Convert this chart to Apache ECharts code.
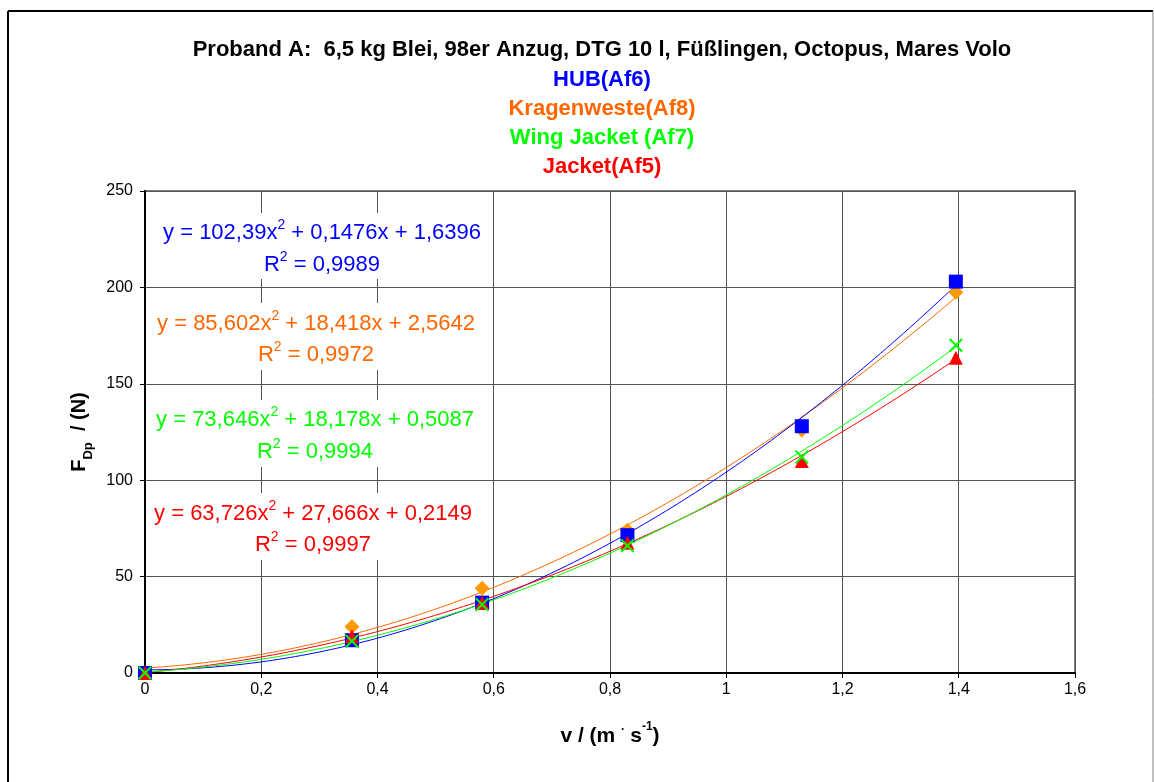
<!DOCTYPE html>
<html>
<head>
<meta charset="utf-8">
<script src="https://cdn.jsdelivr.net/npm/echarts@6/dist/echarts.min.js"></script>
<style>
html,body{margin:0;padding:0;background:#fff;}
#chart{width:1154px;height:782px;}
</style>
</head>
<body>
<div id="chart"></div>
<script>
// ---- data ----
const velocity = [0, 0.356, 0.58, 0.83, 1.13, 1.395];
const hubForce = [0, 17, 36.5, 71.5, 128, 203];
const kragenForce = [0, 24, 44, 74, 126, 197.5];
const wingForce = [0, 16.5, 35.5, 66, 112, 170];
const jacketForce = [0, 19, 36.5, 67.5, 110, 163.5];

// trendline coefficients (a, b, c) of y = a x^2 + b x + c, as printed
const hubFit = [102.39, 0.1476, 1.6396];
const kragenFit = [85.602, 18.418, 2.5642];
const wingFit = [73.646, 18.178, 0.5087];
const jacketFit = [63.726, 27.666, 0.2149];
const rSquared = [0.9989, 0.9972, 0.9994, 0.9997];

const seriesNames = ['HUB(Af6)', 'Kragenweste(Af8)', 'Wing Jacket (Af7)', 'Jacket(Af5)'];
const xTicks = [0, 0.2, 0.4, 0.6, 0.8, 1, 1.2, 1.4, 1.6];
const yTicks = [0, 50, 100, 150, 200, 250];

const FONT = '"Liberation Sans", Arial, sans-serif';
const C_BLUE = '#0000ff', C_ORANGE = '#ff6600', C_ORANGE_M = '#ff9900', C_GREEN = '#00ff00', C_RED = '#ff0000';

function pairs(xs, ys){ return xs.map((x,i)=>[x, ys[i]]); }
function trend(coef, xs){
  const out = [];
  const xmax = xs[xs.length-1];
  const n = 140;
  for(let i=0;i<=n;i++){
    const x = xmax*i/n;
    out.push([x, coef[0]*x*x + coef[1]*x + coef[2]]);
  }
  return out;
}
function dec(v){ return String(v).replace('.', ','); }
function eqText(c){ return '{t|y = ' + dec(c[0]) + 'x}{s|2}{t| + ' + dec(c[1]) + 'x + ' + dec(c[2]) + '}'; }
function r2Text(r){ return '{t|R}{s|2}{t| = ' + dec(r) + '}'; }

const crossPath = 'path://M0,1 L1,0 L5,4 L9,0 L10,1 L6,5 L10,9 L9,10 L5,6 L1,10 L0,9 L4,5 Z';

const chart = echarts.init(document.getElementById('chart'), null, {renderer:'canvas'});

const eqColors = [C_BLUE, C_ORANGE, C_GREEN, C_RED];
const fits = [hubFit, kragenFit, wingFit, jacketFit];
const eqCenters = [[322,231,263],[316,322,353],[315,418,450],[313,512,543]];
const boxes = [[154,213,332,66],[150,303,336,67],[150,400,336,67],[148,493,336,67]];

const graphics = [
  {type:'line', shape:{x1:8,y1:11,x2:1153,y2:11}, style:{stroke:'#000',lineWidth:2}, z:1},
  {type:'line', shape:{x1:8,y1:11,x2:8,y2:782}, style:{stroke:'#000',lineWidth:2}, z:1},
  {type:'line', shape:{x1:1153,y1:11,x2:1153,y2:782}, style:{stroke:'#808080',lineWidth:1}, z:1}
];
const titleLines = [
  ['Proband A:  6,5 kg Blei, 98er Anzug, DTG 10 l, Füßlingen, Octopus, Mares Volo', '#000', 50],
  [seriesNames[0], C_BLUE, 80],
  [seriesNames[1], C_ORANGE, 109],
  [seriesNames[2], C_GREEN, 138],
  [seriesNames[3], C_RED, 167]
];
titleLines.forEach(t=>{
  graphics.push({type:'text', x:602, y:t[2], z:10, style:{text:t[0], fill:t[1], font:'bold 22px '+FONT, align:'center', verticalAlign:'middle'}});
});
fits.forEach((c,i)=>{
  const b = boxes[i];
  graphics.push({type:'rect', shape:{x:b[0],y:b[1],width:b[2],height:b[3]}, style:{fill:'#fff'}, z:5});
  const rich = {t:{fontSize:22, fontFamily:FONT, fill:eqColors[i], lineHeight:26, verticalAlign:'bottom'}, s:{fontSize:14, fontFamily:FONT, fill:eqColors[i], lineHeight:26, verticalAlign:'top'}};
  graphics.push({type:'text', x:eqCenters[i][0], y:eqCenters[i][1], z:10, style:{text:eqText(c), rich:rich, align:'center', verticalAlign:'middle'}});
  graphics.push({type:'text', x:eqCenters[i][0], y:eqCenters[i][2], z:10, style:{text:r2Text(rSquared[i]), rich:rich, align:'center', verticalAlign:'middle'}});
});

function fmtTick(v){ const r = Math.round(v*10)/10; return dec(r); }

chart.setOption({
  backgroundColor:'#ffffff',
  animation:false,
  grid:{left:145, top:191, right:79, bottom:109, show:true, borderColor:'#808080', borderWidth:2, backgroundColor:'#fff'},
  xAxis:{
    type:'value', min:0, max:1.6, interval:0.2,
    axisLine:{show:true, onZero:false, lineStyle:{color:'#000', width:2}},
    axisTick:{show:true, length:5, lineStyle:{color:'#000'}},
    axisLabel:{formatter:fmtTick, fontSize:16, fontFamily:FONT, color:'#000', margin:9},
    splitLine:{show:true, lineStyle:{color:'#555', width:1}},
    name:'{b|v / (m }{s|.}{b| s}{s|-1}{b|)}', nameLocation:'middle', nameGap:48,
    nameTextStyle:{rich:{b:{fontSize:21, fontWeight:'bold', fontFamily:FONT, color:'#000', lineHeight:26, verticalAlign:'bottom'}, s:{fontSize:12, fontWeight:'bold', fontFamily:FONT, color:'#000', lineHeight:26, verticalAlign:'top'}}}
  },
  yAxis:{
    type:'value', min:0, max:250, interval:50,
    axisLine:{show:true, lineStyle:{color:'#000', width:2}},
    axisTick:{show:true, length:5, lineStyle:{color:'#000'}},
    axisLabel:{fontSize:16, fontFamily:FONT, color:'#000', margin:12},
    splitLine:{show:true, lineStyle:{color:'#555', width:1}},
    name:'{b|F}{s|Dp}{b|  / (N)}', nameLocation:'middle', nameGap:47, nameRotate:90,
    nameTextStyle:{rich:{b:{fontSize:20, fontWeight:'bold', fontFamily:FONT, color:'#000', lineHeight:26, verticalAlign:'top'}, s:{fontSize:13, fontWeight:'bold', fontFamily:FONT, color:'#000', lineHeight:26, verticalAlign:'bottom'}}}
  },
  series:[
    {name:'Kragenweste trend', type:'line', data:trend(kragenFit, velocity), showSymbol:false, symbol:'none', lineStyle:{color:C_ORANGE, width:1}, z:2, silent:true},
    {name:'HUB trend', type:'line', data:trend(hubFit, velocity), showSymbol:false, symbol:'none', lineStyle:{color:C_BLUE, width:1}, z:2, silent:true},
    {name:'Jacket trend', type:'line', data:trend(jacketFit, velocity), showSymbol:false, symbol:'none', lineStyle:{color:C_RED, width:1}, z:2, silent:true},
    {name:'Wing trend', type:'line', data:trend(wingFit, velocity), showSymbol:false, symbol:'none', lineStyle:{color:C_GREEN, width:1}, z:2, silent:true},
    {name:seriesNames[1], type:'scatter', data:pairs(velocity, kragenForce), symbol:'diamond', symbolSize:15, itemStyle:{color:C_ORANGE_M, opacity:1}, z:3},
    {name:seriesNames[0], type:'scatter', data:pairs(velocity, hubForce), symbol:'rect', symbolSize:14, itemStyle:{color:C_BLUE, opacity:1}, z:4},
    {name:seriesNames[3], type:'scatter', data:pairs(velocity, jacketForce), symbol:'triangle', symbolSize:14, itemStyle:{color:C_RED, opacity:1}, z:5},
    {name:seriesNames[2], type:'scatter', data:pairs(velocity, wingForce), symbol:crossPath, symbolSize:14, itemStyle:{color:C_GREEN, opacity:1}, z:6}
  ],
  graphic:graphics
});
</script>
</body>
</html>
